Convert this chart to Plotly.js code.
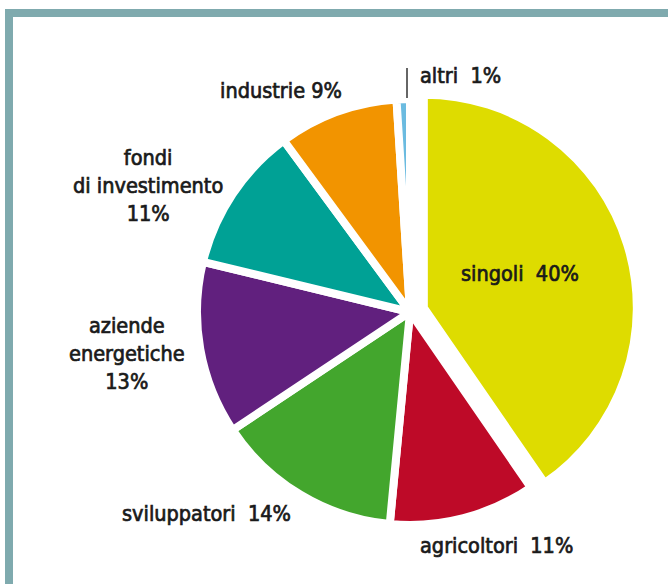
<!DOCTYPE html>
<html>
<head>
<meta charset="utf-8">
<script src="https://cdn.plot.ly/plotly-3.0.1.min.js"></script>
<style>
html,body{margin:0;padding:0;background:#fff;}
#chart{width:668px;height:584px;}
#chart .annotation-text{stroke:#1a1a1a;stroke-width:0.7px;}
</style>
</head>
<body>
<div id="chart"></div>
<script>
// ---- data ----
var categories = ["singoli", "agricoltori", "sviluppatori", "aziende energetiche", "fondi di investimento", "industrie", "altri"];
var labelLines = ["singoli", "agricoltori", "sviluppatori", "aziende<br>energetiche", "fondi<br>di investimento", "industrie", "altri"];
var values = [40, 11, 14, 13, 11, 9, 1];
var colors = ["#dedc00", "#be0a28", "#43a62d", "#61207e", "#00a195", "#f29400", "#6bbbe0"];

// ---- label layout (pixel positions in the 668x584 page) ----
var W = 668, H = 584;
var labelSep = ["  ", "  ", "  ", "<br>", "<br>", " ", "  "];
var labelPos = [
  {x: 520, y: 273, xa: "center"},
  {x: 497, y: 545, xa: "center"},
  {x: 207, y: 513, xa: "center"},
  {x: 127, y: 353, xa: "center"},
  {x: 148, y: 185, xa: "center"},
  {x: 281, y: 90,  xa: "center"},
  {x: 418, y: 76,  xa: "left"}
];

var annotations = categories.map(function(c, i) {
  return {
    xref: "paper", yref: "paper",
    x: labelPos[i].x / W, y: 1 - labelPos[i].y / H,
    xanchor: labelPos[i].xa, yanchor: "middle",
    text: labelLines[i] + labelSep[i] + values[i] + "%",
    showarrow: false, align: "center",
    font: {family: "DejaVu Sans Condensed, DejaVu Sans", size: 21.5, color: "#1a1a1a"}
  };
});

var cx = 410, cy = 312, R = 213, maxPull = 0.068;
var half = R * (1 + maxPull);

var trace = {
  type: "pie",
  labels: categories,
  values: values,
  sort: false,
  direction: "clockwise",
  rotation: 0,
  pull: [maxPull, 0, 0, 0, 0, 0, 0],
  marker: {colors: colors, line: {color: "#ffffff", width: 8}},
  textinfo: "none",
  hoverinfo: "label+percent",
  showlegend: false,
  domain: {x: [(cx - half) / W, (cx + half) / W], y: [1 - (cy + half) / H, 1 - (cy - half) / H]}
};

var frameColor = "#7faaae";
var layout = {
  width: W, height: H,
  margin: {l: 0, r: 0, t: 0, b: 0},
  paper_bgcolor: "#ffffff",
  showlegend: false,
  annotations: annotations,
  shapes: [
    {type: "rect", xref: "paper", yref: "paper", x0: 5 / W, x1: 1.01, y0: 1 - 17 / H, y1: 1 - 9 / H, fillcolor: frameColor, line: {width: 0}, layer: "below"},
    {type: "rect", xref: "paper", yref: "paper", x0: 5 / W, x1: 13 / W, y0: -0.01, y1: 1 - 9 / H, fillcolor: frameColor, line: {width: 0}, layer: "below"},
    {type: "line", xref: "paper", yref: "paper", x0: 407 / W, x1: 407 / W, y0: 1 - 98 / H, y1: 1 - 68 / H, line: {color: "#333333", width: 1.5}}
  ]
};

Plotly.newPlot("chart", [trace], layout, {displayModeBar: false, staticPlot: true});
</script>
</body>
</html>
